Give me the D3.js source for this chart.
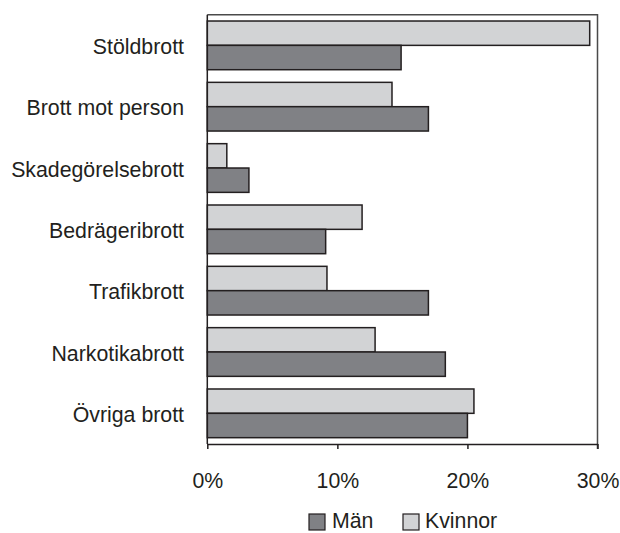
<!DOCTYPE html>
<html>
<head>
<meta charset="utf-8">
<script src="https://cdn.jsdelivr.net/npm/d3@7"></script>
<style>
  html, body { margin: 0; padding: 0; background: #fff; }
  svg { display: block; font-family: "Liberation Sans", Arial, sans-serif; }
</style>
</head>
<body>
<svg id="chart" width="620" height="533"></svg>
<script>
// Crime categories (top to bottom) and share per gender, in percent
const categories = ["Stöldbrott", "Brott mot person", "Skadegörelsebrott", "Bedrägeribrott", "Trafikbrott", "Narkotikabrott", "Övriga brott"];
const kvinnor = [29.4, 14.2, 1.5, 11.9, 9.2, 12.9, 20.5];
const man = [14.9, 17.0, 3.2, 9.1, 17.0, 18.3, 20.0];
const seriesNames = ["Kvinnor", "Män"];
const xTicks = [0, 10, 20, 30];

const colors = { "Män": "#808185", "Kvinnor": "#d2d3d5" };
const textColor = "#231f20";
const fontSize = "21.3px";

const svg = d3.select("#chart");
const margin = { left: 207.3, right: 22.5, top: 14.7, bottom: 89 };
const W = 620, H = 533;

const x = d3.scaleLinear().domain([0, 30]).range([margin.left, W - margin.right]);
const y = d3.scaleBand().domain(categories)
  .range([margin.top, H - margin.bottom])
  .paddingInner(0.206).paddingOuter(0.103);
const ySub = d3.scaleBand().domain(seriesNames).range([0, y.bandwidth()]);

const rows = categories.map((c, i) => ({ cat: c, values: [
  { key: "Kvinnor", value: kvinnor[i] },
  { key: "Män", value: man[i] }
]}));

// plot frame: top and right edges
svg.append("path")
  .attr("d", `M${x(0)},${margin.top}H${x(30)}V${H - margin.bottom + 5}`)
  .attr("fill", "none").attr("stroke", "#4a4a4a").attr("stroke-width", 1.5);

// bars
const groups = svg.append("g").selectAll("g").data(rows).join("g")
  .attr("transform", d => `translate(0,${y(d.cat)})`);
groups.selectAll("rect").data(d => d.values).join("rect")
  .attr("x", x(0))
  .attr("y", d => ySub(d.key))
  .attr("width", d => x(d.value) - x(0))
  .attr("height", ySub.bandwidth())
  .attr("fill", d => colors[d.key])
  .attr("stroke", "#231f20")
  .attr("stroke-width", 1.5);

// x axis
const xAxis = svg.append("g")
  .attr("transform", `translate(0,${H - margin.bottom})`)
  .call(d3.axisBottom(x).tickValues(xTicks).tickFormat(d => d + "%")
    .tickSize(5).tickSizeOuter(0).tickPadding(23.6));
xAxis.select(".domain").attr("stroke", "#231f20").attr("stroke-width", 1.5);
xAxis.selectAll(".tick line").attr("stroke", "#231f20").attr("stroke-width", 1.5);
xAxis.selectAll(".tick text").attr("fill", textColor)
  .style("font-size", fontSize).style("font-family", '"Liberation Sans", Arial, sans-serif');

// y axis
const yAxis = svg.append("g")
  .attr("transform", `translate(${x(0)},0)`)
  .call(d3.axisLeft(y).tickSize(0).tickPadding(23.3));
yAxis.select(".domain").attr("stroke", "#231f20").attr("stroke-width", 1.5)
  .attr("d", `M0,${margin.top}V${H - margin.bottom}`);
yAxis.selectAll(".tick text").attr("fill", textColor).attr("dy", "0.41em")
  .style("font-size", fontSize).style("font-family", '"Liberation Sans", Arial, sans-serif');

// legend
const legendItems = [
  { key: "Män", sx: 309, tx: 332 },
  { key: "Kvinnor", sx: 403, tx: 425 }
];
const legend = svg.append("g");
legend.selectAll("rect").data(legendItems).join("rect")
  .attr("x", d => d.sx).attr("y", 514)
  .attr("width", 16).attr("height", 16)
  .attr("fill", d => colors[d.key])
  .attr("stroke", "#231f20").attr("stroke-width", 1.2);
legend.selectAll("text").data(legendItems).join("text")
  .attr("x", d => d.tx).attr("y", 528)
  .attr("fill", textColor)
  .style("font-size", fontSize)
  .text(d => d.key);
</script>
</body>
</html>
